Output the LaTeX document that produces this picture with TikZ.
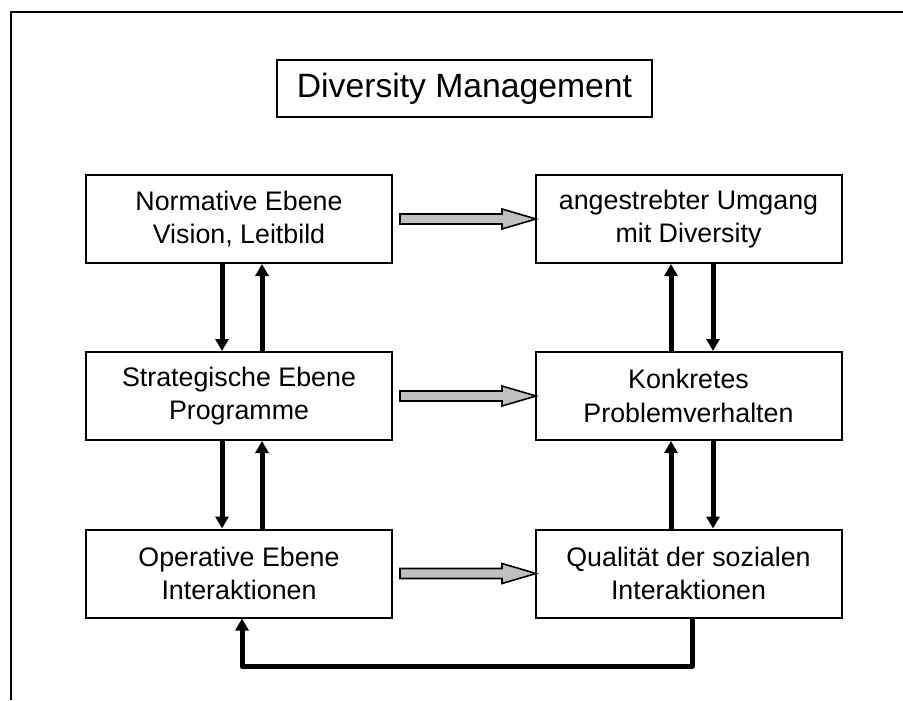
\documentclass[tikz,border=0pt]{standalone}
\usepackage{fontspec}
\setmainfont{Liberation Sans}
\usetikzlibrary{positioning,calc,arrows.meta}
\definecolor{arrowgray}{HTML}{C0C0C0}

\begin{document}
\begin{tikzpicture}[x=0.5pt,y=-0.5pt,
  level/.style={draw,line width=1pt,minimum width=153pt,minimum height=44pt,
    align=center,inner sep=0pt,font=\fontsize{13.4}{16.7}\selectfont},
  link/.style={line width=2.5pt,-{Triangle[length=6pt,width=6.5pt]}},
  grayarr/.style={draw,line width=0.8pt,fill=arrowgray,line join=miter}]
\useasboundingbox (0,0) rectangle (903,700);
\draw[line width=0.8pt] (11,700) -- (11,12) -- (903,12);

\node[draw,line width=1pt,minimum width=187.5pt,minimum height=28.5pt,inner sep=0pt,
  font=\fontsize{16.85}{20}\selectfont] (title) at (464.5,88.5) {Diversity Management};

\node[level] (nor) at (239,219) {Normative Ebene\\Vision, Leitbild};
\node[level] (str) at (239,396) {Strategische Ebene\\Programme};
\node[level] (ope) at (239,573.5) {Operative Ebene\\Interaktionen};
\node[level] (umg) at (688.5,219) {angestrebter Umgang\\mit Diversity};
\node[level] (kon) at (688.5,396) {Konkretes\\Problemverhalten};
\node[level] (qua) at (688.5,573.5) {Qualität der sozialen\\Interaktionen};

% left column
\draw[link] ([xshift=-8.5pt]nor.south) -- ([xshift=-8.5pt]str.north);
\draw[link] ([xshift=11.5pt]str.north) -- ([xshift=11.5pt]nor.south);
\draw[link] ([xshift=-8.5pt]str.south) -- ([xshift=-8.5pt]ope.north);
\draw[link] ([xshift=11.5pt]ope.north) -- ([xshift=11.5pt]str.south);
% right column
\draw[link] ([xshift=-8.75pt]kon.north) -- ([xshift=-8.75pt]umg.south);
\draw[link] ([xshift=12.25pt]umg.south) -- ([xshift=12.25pt]kon.north);
\draw[link] ([xshift=-8.75pt]qua.north) -- ([xshift=-8.75pt]kon.south);
\draw[link] ([xshift=12.25pt]kon.south) -- ([xshift=12.25pt]qua.north);

% gray arrows
\foreach \a in {nor,str,ope}{
  \draw[grayarr] ([xshift=3.5pt]\a.east) ++(0,5) -- ++(102,0) -- ++(0,5) -- ++(34,-10)
    -- ++(-34,-10) -- ++(0,5) -- ++(-102,0) -- cycle;
}

% feedback
\draw[link,line join=round] ([xshift=1.75pt]qua.south) -- ++(0,48) -| ([xshift=1.5pt]ope.south);
\end{tikzpicture}
\end{document}
